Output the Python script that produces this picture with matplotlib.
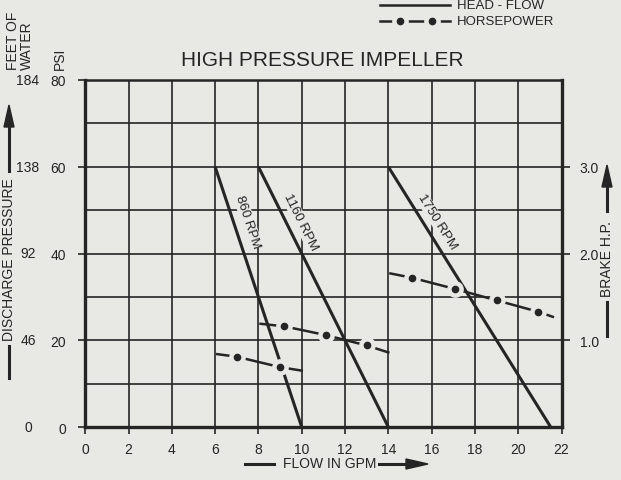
import numpy as np
import matplotlib.pyplot as plt
from matplotlib.lines import Line2D
from matplotlib.transforms import blended_transform_factory

plt.rcParams['font.family'] = ['Liberation Sans', 'DejaVu Sans']

flow_ticks = list(range(0, 23, 2))
psi_ticks = [0, 20, 40, 60, 80]
feet_labels = ['0', '46', '92', '138', '184']
bhp_ticks = [1.0, 2.0, 3.0]

# head - flow lines (gpm, psi)
head_lines = {
    '860 RPM': ([6, 10], [60, 0]),
    '1160 RPM': ([8, 14], [60, 0]),
    '1750 RPM': ([14, 21.5], [60, 0]),
}

# horsepower curves (gpm, brake hp)
hp_860_x = [6.1, 7, 9, 10]
hp_860_y = [0.84, 0.81, 0.69, 0.65]
hp_1160_x = [8.1, 9.2, 11.1, 13, 14]
hp_1160_y = [1.19, 1.16, 1.06, 0.94, 0.86]
hp_1750_x = [14.1, 15.1, 17.1, 19, 20.9, 21.6]
hp_1750_y = [1.77, 1.72, 1.59, 1.46, 1.33, 1.27]

bg = '#e8e8e5'
ink = '#252525'

fig = plt.figure(figsize=(6.21, 4.81), dpi=100, facecolor=bg)
W, H = 621.0, 481.0
ax = fig.add_axes([85.2 / W, 1 - 428 / H, 476.3 / W, 347 / H], facecolor=bg)

ax.set_xlim(0, 22)
ax.set_ylim(0, 80)
ax.set_xticks(flow_ticks)
ax.set_yticks(psi_ticks)
ax.set_yticks([10, 30, 50, 70], minor=True)
ax.grid(True, which='both', color=ink, lw=1.2)
ax.tick_params(which='minor', length=0)
ax.tick_params(which='major', direction='out', length=5, width=1.2, color=ink,
               labelsize=10, labelcolor=ink)
ax.tick_params(axis='y', pad=9)
ax.tick_params(axis='x', pad=6)
for s in ax.spines.values():
    s.set_linewidth(2.4)
    s.set_color(ink)
ax.spines['top'].set_linewidth(1.8)

# feet of water column
trans = blended_transform_factory(ax.transAxes, ax.transData)
for v, lab in zip(psi_ticks, feet_labels):
    ax.text(-0.12, v, lab, transform=trans, ha='center', va='center',
            fontsize=10, color=ink)

# head-flow lines with labels
for name, (xs, ys) in head_lines.items():
    ax.plot(xs, ys, color=ink, lw=2.2, solid_capstyle='butt')
    p0 = ax.transData.transform((xs[0], ys[0]))
    p1 = ax.transData.transform((xs[1], ys[1]))
    ang = np.degrees(np.arctan2(p1[1] - p0[1], p1[0] - p0[0]))
    yl = 47.5
    xl = xs[0] + (xs[1] - xs[0]) * (ys[0] - yl) / (ys[0] - ys[1]) + 0.68
    ax.text(xl, yl, name, rotation=ang, rotation_mode='anchor', ha='center',
            va='center', fontsize=9.5, color=ink, zorder=5,
            bbox=dict(fc=bg, ec='none', pad=0.6))

# horsepower on right axis
ax2 = ax.twinx()
ax2.set_ylim(0, 4)
ax2.set_yticks(bhp_ticks)
ax2.set_yticklabels(['1.0', '2.0', '3.0'])
ax2.tick_params(direction='out', length=6, width=1.2, color=ink, labelsize=10,
                labelcolor=ink, pad=7)
for s in ax2.spines.values():
    s.set_visible(False)

for xs, ys in [(hp_860_x, hp_860_y), (hp_1160_x, hp_1160_y), (hp_1750_x, hp_1750_y)]:
    ax2.plot(xs, ys, color=ink, lw=1.8)
    ax2.plot(xs[1:-1], ys[1:-1], 'o', color=bg, ms=11)
    ax2.plot(xs[1:-1], ys[1:-1], 'o', color=ink, ms=4.5)

fig.text(322 / W, 1 - 61 / H, 'HIGH PRESSURE IMPELLER', ha='center', va='center',
         fontsize=15, color=ink)

# left headings
fig.text(20 / W, 1 - 70 / H, 'FEET OF\nWATER', rotation=90, ha='center', va='bottom',
         multialignment='left', fontsize=10, color=ink, linespacing=0.95)
fig.text(60 / W, 1 - 70 / H, 'PSI', rotation=90, ha='center', va='bottom',
         fontsize=10, color=ink)

def fx(x):
    return x / W

def fy(y):
    return 1 - y / H

# discharge pressure label with arrow
fig.text(fx(9), fy(260), 'DISCHARGE PRESSURE', rotation=90, ha='center', va='center',
         fontsize=10, color=ink)
fig.add_artist(Line2D([fx(9), fx(9)], [fy(347), fy(379)], color=ink, lw=2.2))
fig.add_artist(Line2D([fx(9), fx(9)], [fy(172), fy(125)], color=ink, lw=2.2))
fig.patches.append(plt.Polygon([[fx(4), fy(128)], [fx(14), fy(128)], [fx(9), fy(106)]],
                               closed=True, color=ink, transform=fig.transFigure))

# brake hp label with arrow
fig.text(fx(607), fy(259), 'BRAKE H.P.', rotation=90, ha='center', va='center',
         fontsize=10, color=ink)
fig.add_artist(Line2D([fx(607), fx(607)], [fy(303), fy(337)], color=ink, lw=2.2))
fig.add_artist(Line2D([fx(607), fx(607)], [fy(212), fy(185)], color=ink, lw=2.2))
fig.patches.append(plt.Polygon([[fx(602), fy(188)], [fx(612), fy(188)], [fx(607), fy(166)]],
                               closed=True, color=ink, transform=fig.transFigure))

# flow label with arrow
fig.text(fx(330), fy(464), 'FLOW IN GPM', ha='center', va='center', fontsize=10, color=ink)
fig.add_artist(Line2D([fx(245), fx(274)], [fy(465), fy(465)], color=ink, lw=2.2))
fig.add_artist(Line2D([fx(379), fx(410)], [fy(465), fy(465)], color=ink, lw=2.2))
fig.patches.append(plt.Polygon([[fx(406), fy(460)], [fx(406), fy(470)], [fx(428), fy(465)]],
                               closed=True, color=ink, transform=fig.transFigure))

# legend
fig.add_artist(Line2D([fx(380), fx(450)], [fy(6), fy(6)], color=ink, lw=1.8))
fig.text(fx(457), fy(6), 'HEAD - FLOW', ha='left', va='center', fontsize=9.5, color=ink)
fig.add_artist(Line2D([fx(380), fx(450)], [fy(22), fy(22)], color=ink, lw=1.8))
fig.add_artist(Line2D([fx(400), fx(432)], [fy(22), fy(22)], ls='none', marker='o',
                      ms=11, color=bg))
fig.add_artist(Line2D([fx(400), fx(432)], [fy(22), fy(22)], ls='none', marker='o',
                      ms=4.5, color=ink))
fig.text(fx(457), fy(22), 'HORSEPOWER', ha='left', va='center', fontsize=9.5, color=ink)

fig.savefig('out.png', dpi=100, facecolor=bg)
